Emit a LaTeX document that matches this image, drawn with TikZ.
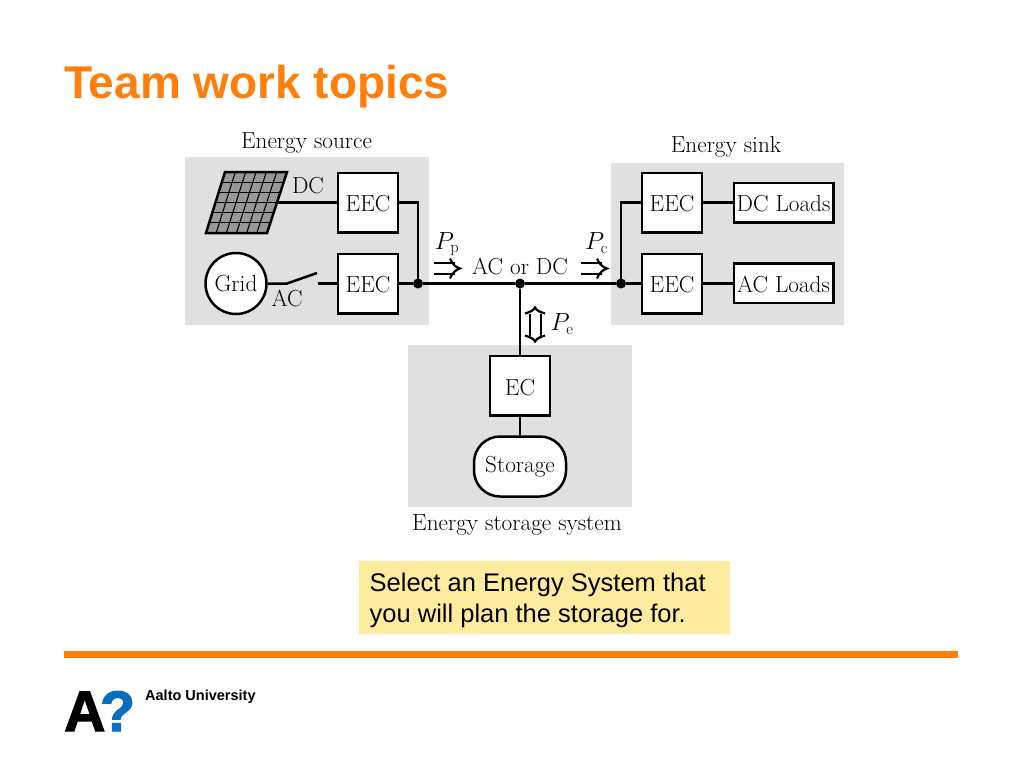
\documentclass[tikz,border=0pt]{standalone}
\usepackage{fontspec}
\setsansfont{Liberation Sans}
\newfontfamily\logofont[FakeBold=2.2]{Liberation Sans Bold}
\usetikzlibrary{arrows.meta,calc}
\definecolor{aaltoorange}{HTML}{FF7F0A}
\definecolor{panelgray}{HTML}{E0E0E0}
\definecolor{notefill}{HTML}{FFEB9E}
\definecolor{logoblue}{HTML}{0A6EBE}
\definecolor{pvgray}{HTML}{989898}
\newcommand{\difont}{\fontsize{23.2}{27}\selectfont}
\tikzset{
  x=1pt,y=-1pt,
  zone/.style={fill=panelgray,draw=none},
  conv/.style={draw=black,fill=white,line width=2.5pt,inner sep=0pt,minimum width=60pt,minimum height=59.5pt,font=\difont,text height=18pt,text depth=0pt},
  load/.style={draw=black,fill=white,line width=2.5pt,inner sep=0pt,minimum width=99.5pt,minimum height=39.5pt,font=\difont,text height=18pt,text depth=0pt},
  wire/.style={line width=2.5pt,draw=black},
  dot/.style={circle,fill=black,draw=none,inner sep=0pt,minimum size=10pt},
  lab/.style={inner sep=0pt,font=\difont,text=black},
  flowline/.style={line width=2pt,line cap=butt},
  flowtip/.style={line width=2.2pt,line join=miter,fill=none},
}
\begin{document}
\begin{tikzpicture}
\useasboundingbox (0,0) rectangle (1024,768);
\fill[white] (0,0) rectangle (1024,768);
% title
\node[anchor=west,inner sep=0pt,text=aaltoorange,font=\sffamily\bfseries\fontsize{46}{50}\selectfont] (title) at (64,87) {Team work topics};
% zones
\node[zone,minimum width=244pt,minimum height=168pt,inner sep=0pt] (zsrc) at (307,241) {};
\node[zone,minimum width=233pt,minimum height=162pt,inner sep=0pt] (zsnk) at (727.5,244) {};
\node[zone,minimum width=224pt,minimum height=162pt,inner sep=0pt] (zsto) at (520,426) {};
\node[lab] (tsrc) at (306.5,143) {Energy source};
\node[lab] (tsnk) at (726,146.5) {Energy sink};
\node[lab] (tsto) at (517,525) {Energy storage system};
% blocks
\node[conv] (eec1) at (368,202.5) {EEC};
\node[conv] (eec2) at (368,283.5) {EEC};
\node[conv] (eec3) at (672,202.5) {EEC};
\node[conv] (eec4) at (672,283.5) {EEC};
\node[load] (dcl) at (783.5,202.5) {DC Loads};
\node[load] (acl) at (783.5,283) {AC Loads};
\node[conv,text height=20pt] (ec) at (520,385.5) {EC};
\node[draw=black,fill=white,line width=2.5pt,rounded corners=26pt,minimum width=92pt,minimum height=60pt,inner sep=0pt,font=\difont] (stor) at (520,466.5) {Storage};
\node[circle,draw=black,fill=white,line width=2.5pt,minimum size=61pt,inner sep=0pt,font=\difont] (grid) at (236,283.5) {Grid};
% PV panel
\coordinate (pvtl) at (225,172);
\coordinate (pvtr) at (287,172);
\coordinate (pvbr) at (267,233);
\coordinate (pvbl) at (206,233);
\fill[pvgray] (pvtl)--(pvtr)--(pvbr)--(pvbl)--cycle;
\foreach \i in {1,...,5}{
  \draw[line width=1.1pt] ($(pvtl)!\i/6!(pvtr)$) -- ($(pvbl)!\i/6!(pvbr)$);
  \draw[line width=1.1pt] ($(pvtl)!\i/6!(pvbl)$) -- ($(pvtr)!\i/6!(pvbr)$);
}
\draw[wire,line join=miter] (pvtl)--(pvtr)--(pvbr)--(pvbl)--cycle;
\coordinate (pvout) at (277,202.5);
% junctions
\node[dot] (j1) at (418,283.5) {};
\node[dot] (j2) at (520,283.5) {};
\node[dot] (j3) at (621,283.5) {};
% connectors
\draw[wire] (pvout) -- (eec1.west);
\draw[wire] (eec1.east) -| (j1.center);
\draw[wire] (eec2.east) -- (j1);
\draw[wire] (j1) -- (j2);
\draw[wire] (j2) -- (j3);
\draw[wire] (j3) -- (eec4.west);
\draw[wire] (j3.center) |- (eec3.west);
\draw[wire] (eec3.east) -- (dcl.west);
\draw[wire] (eec4.east) -- (acl.west |- eec4.east);
\draw[wire] (j2) -- (ec.north);
\draw[wire] (ec.south) -- (stor.north);
% switch
\coordinate (swa) at (287,283.5);
\coordinate (swb) at (317,273);
\coordinate (swc) at (318,283.5);
\draw[wire] (grid.east) -- (swa) -- (swb);
\draw[wire] (swc) -- (eec2.west);
% flows: double-line arrows
\foreach \ox in {434,581}{
  \begin{scope}[shift={(\ox,268.5)}]
    \draw[flowline] (0,-5.5) -- (21,-5.5);
    \draw[flowline] (0,5.5) -- (21,5.5);
    \draw[flowtip] (16,-10) .. controls (18,-5) and (21,-1.5) .. (26,0) .. controls (21,1.5) and (18,5) .. (16,10);
  \end{scope}
}
\begin{scope}[shift={(535,324.5)}]
  \draw[flowline] (-5.5,-11) -- (-5.5,11);
  \draw[flowline] (5.5,-11) -- (5.5,11);
  \draw[flowtip] (-10,-11) .. controls (-5,-12.5) and (-1.5,-14) .. (0,-17) .. controls (1.5,-14) and (5,-12.5) .. (10,-11);
  \draw[flowtip] (-10,11) .. controls (-5,12.5) and (-1.5,14) .. (0,17) .. controls (1.5,14) and (5,12.5) .. (10,11);
\end{scope}
% labels
\node[lab] (ldc) at (308,186) {DC};
\node[lab] (lac) at (287,298) {AC};
\node[lab] (lbus) at (520,266.5) {AC or DC};
\node[lab] (lpp) at (447,244) {$P_{\mathrm{p}}$};
\node[lab] (lpc) at (596.5,243) {$P_{\mathrm{c}}$};
\node[lab] (lpe) at (562,324) {$P_{\mathrm{e}}$};
% note
\node[fill=notefill,draw=none,minimum width=371pt,minimum height=73pt,inner sep=0pt] (note) at (544.5,597.5) {};
\node[anchor=north west,inner sep=0pt,align=left,font=\sffamily\fontsize{25.5}{30.5}\selectfont] (notet) at (369.5,573) {Select an Energy System that\\you will plan the storage for.};
% rule
\node[fill=aaltoorange,draw=none,minimum width=894pt,minimum height=7pt,inner sep=0pt] (rule) at (511,654.5) {};
% logo
\node[anchor=base west,inner sep=0pt,font=\logofont\fontsize{57}{60}\selectfont] (logoa) at (64,731) {A};
\node[anchor=base west,inner sep=0pt,text=logoblue,font=\logofont\fontsize{57}{60}\selectfont] (logoq) at (100,731) {?};
\node[anchor=west,inner sep=0pt,font=\sffamily\bfseries\fontsize{14.5}{16}\selectfont] (logot) at (145,697) {Aalto University};
\end{tikzpicture}
\end{document}
